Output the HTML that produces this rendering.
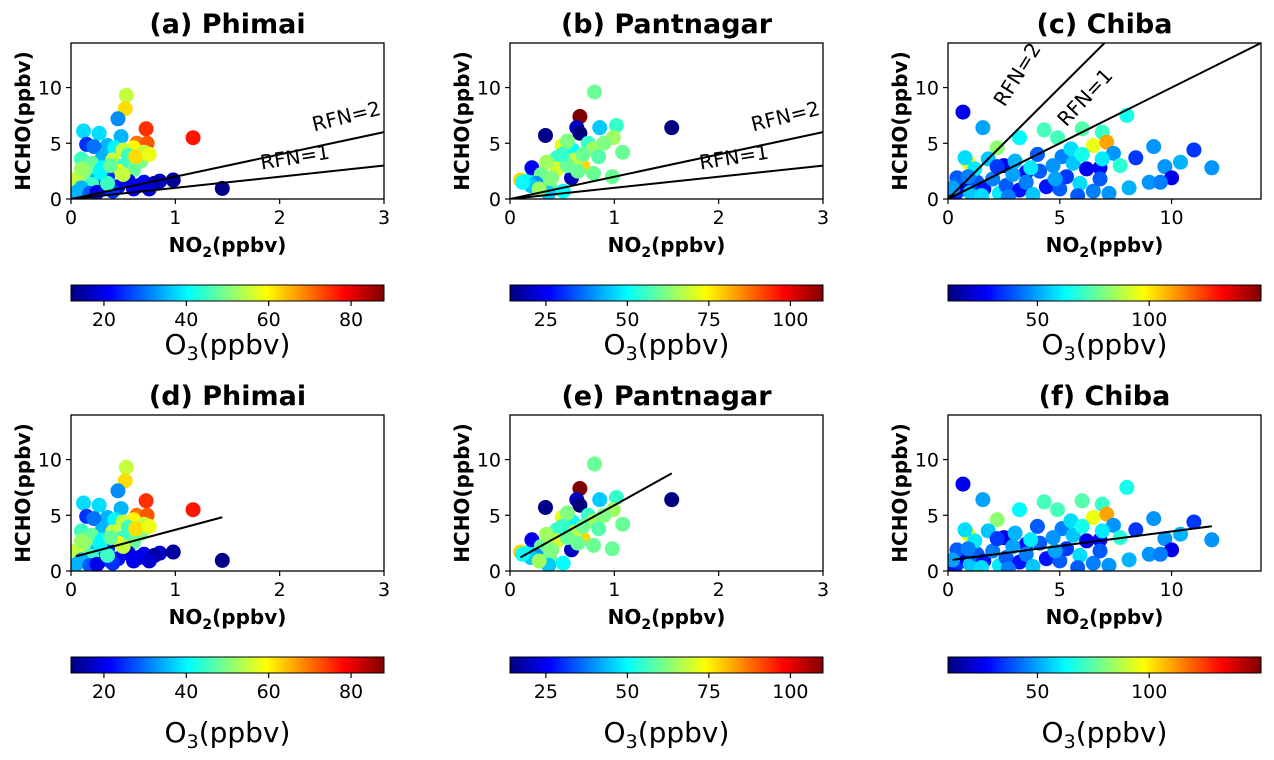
<!DOCTYPE html>
<html><head><meta charset="utf-8"><style>
html,body{margin:0;padding:0;background:#fff}
svg{display:block;font-family:"DejaVu Sans","Liberation Sans",sans-serif}
</style></head><body>
<svg id="fig" width="1274" height="760" viewBox="0 0 1274 760" xmlns="http://www.w3.org/2000/svg">
<defs id="defs"></defs>
</svg>
<script>
// ---- data: [NO2, HCHO, O3] ----
const phimaiNO2 = [0.53,0.52,0.45,0.72,1.17,0.12,0.27,0.48,0.63,0.73,0.15,0.35,0.22,0.42,0.6,0.5,0.7,0.1,0.3,0.55,0.4,0.67,0.2,0.5,0.3,0.45,0.6,0.15,0.05,0.25,0.35,0.55,0.7,0.85,0.98,0.8,0.65,0.45,0.3,0.2,0.1,0.05,0.18,0.4,0.6,0.75,1.45,0.25,0.35,0.5,0.1,0.28,0.38,0.62,0.75];
const phimaiHCHO = [9.3,8.1,7.2,6.3,5.5,6.1,5.9,5.6,5.0,5.0,4.9,4.8,4.7,4.6,4.6,4.4,4.2,3.6,3.7,3.9,3.5,3.4,3.2,3.0,2.8,2.5,2.6,2.3,1.8,1.8,2.0,1.6,1.5,1.6,1.7,1.4,1.2,1.1,1.0,1.3,1.0,0.6,0.5,0.7,0.9,0.9,0.95,0.6,1.4,2.2,2.7,2.4,3.0,3.8,4.0];
const phimaiO3 = [55,62,32,75,77,38,38,35,70,72,25,35,30,40,60,55,55,45,35,45,55,50,48,45,40,60,48,50,55,35,25,20,22,18,14,15,20,22,25,45,35,35,28,25,20,18,13,20,45,55,52,40,48,62,58];

const pantNO2 = [0.81,0.67,0.64,0.67,0.34,1.55,0.86,1.02,0.99,1.08,0.6,0.45,0.7,0.98,0.1,0.19,0.21,0.59,0.38,0.51,0.37,0.8,0.5,0.55,0.75,0.8,0.85,0.62,0.45,0.3,0.25,0.4,0.55,0.7,0.9,0.5,0.35,0.65,0.2,0.28,0.12];
const pantHCHO = [9.6,7.4,6.4,5.9,5.7,6.4,6.4,6.6,5.5,4.2,4.4,3.7,2.9,2.0,1.7,1.7,2.8,1.9,1.1,0.7,0.5,2.3,4.8,5.2,5.0,4.5,3.8,3.5,2.7,2.2,1.4,1.9,3.0,4.0,5.0,4.0,3.3,2.5,1.2,0.9,1.5];
const pantO3 = [60,110,20,10,15,10,45,55,65,60,50,55,78,60,78,50,25,20,60,50,45,60,72,62,55,65,58,68,70,60,40,62,60,60,62,55,65,60,45,65,50];

const chibaNO2 = [0.67,1.56,8.0,3.2,4.3,4.9,6.0,6.9,6.5,7.1,2.2,0.9,0.76,9.2,11.0,11.8,10.4,8.4,9.7,10.0,9.0,9.5,7.4,6.8,7.7,8.1,2.5,3.5,4.7,5.1,0.3,0.5,0.8,1.0,1.3,1.6,2.0,2.3,2.6,2.9,3.2,3.5,3.8,4.1,4.4,4.7,5.0,5.3,5.6,5.9,6.2,6.5,6.8,7.2,1.2,1.8,0.4,2.2,3.0,4.0,5.5,6.0,3.7,4.8,1.5,2.7,5.8,0.2,0.9,6.9];
const chibaHCHO = [7.8,6.4,7.5,5.5,6.2,5.5,6.3,6.0,4.8,5.1,4.6,3.3,3.7,4.7,4.4,2.8,3.3,3.7,2.9,1.9,1.5,1.5,4.1,2.8,3.0,1.0,3.0,2.4,1.5,3.8,0.3,0.8,1.2,0.6,1.5,0.9,1.8,0.5,1.2,2.2,0.8,1.5,0.4,2.5,1.1,3.0,0.9,2.0,3.2,1.4,2.7,0.7,1.8,0.5,2.7,3.6,1.9,2.9,3.4,4.0,4.5,4.0,2.8,1.8,0.3,0.2,0.3,1.0,2.0,3.6];
const chibaO3 = [25,50,65,62,72,72,74,70,95,110,82,95,58,48,35,48,52,35,48,25,48,45,48,28,68,52,25,30,65,45,30,35,25,55,40,30,45,60,40,50,30,45,55,40,30,48,40,35,55,58,25,45,40,48,60,55,40,35,52,40,58,65,60,50,58,45,40,50,45,60];

const colorMin = [12, 14, 10];
const colorMax = [88, 110, 150];
const cbTicksA = [20,40,60,80];
const cbTicksB = [25,50,75,100];
const cbTicksC = [50,100];
const xTicksAB = [0,1,2,3];
const xTicksC = [0,5,10];
const yTicks = [0,5,10];
const rfnValues = [1,2];
const regSlope = [2.5, 5.2, 0.26];
const regIntercept = [1.2, 0.7, 0.95];

const NS = "http://www.w3.org/2000/svg";
const svg = document.getElementById('fig');
function mk(tag, attrs, parent){const e=document.createElementNS(NS,tag);for(const k in attrs)e.setAttribute(k,attrs[k]);(parent||svg).appendChild(e);return e;}
function jet(t){t=Math.max(0,Math.min(1,t));const c=v=>Math.round(255*Math.max(0,Math.min(1,v)));
 return `rgb(${c(1.5-Math.abs(4*t-3))},${c(1.5-Math.abs(4*t-2))},${c(1.5-Math.abs(4*t-1))})`;}

const defs=document.getElementById('defs');
const grad=mk('linearGradient',{id:'jetg',x1:'0',x2:'1',y1:'0',y2:'0'},defs);
for(let i=0;i<=40;i++){mk('stop',{offset:(i/40),'stop-color':jet(i/40)},grad);}

const sites=[
 {name:'Phimai',nx:phimaiNO2,hy:phimaiHCHO,o3:phimaiO3,xmax:3,xt:xTicksAB,cb:cbTicksA,left:71,id:'phimai'},
 {name:'Pantnagar',nx:pantNO2,hy:pantHCHO,o3:pantO3,xmax:3,xt:xTicksAB,cb:cbTicksB,left:510,id:'pantnagar'},
 {name:'Chiba',nx:chibaNO2,hy:chibaHCHO,o3:chibaO3,xmax:14,xt:xTicksC,cb:cbTicksC,left:948,id:'chiba'}
];
const rfnLabels=[
 [{x:296,y:164,r:-9},{x:348,y:123,r:-14}],
 [{x:735,y:164,r:-9},{x:787,y:123,r:-14}],
 [{x:1090,y:102,r:-47},{x:1023,y:78,r:-58}]
];
const W=313,H=156,YMAX=14;
const letters=['a','b','c','d','e','f'];

for(let row=0;row<2;row++){
 const top=row===0?43:415;
 sites.forEach((s,si)=>{
  const L=s.left,B=top+H;
  const X=v=>L+v/s.xmax*W, Y=v=>B-v/YMAX*H;
  const panel=mk('g',{});
  
  
  const cp='cp'+row+si;
  const clip=mk('clipPath',{id:cp},defs);mk('rect',{x:L,y:top,width:W,height:H},clip);
  const pts=mk('g',{'clip-path':`url(#${cp})`},panel);
  
  
  for(let i=0;i<s.nx.length;i++){
   const c=mk('circle',{cx:X(s.nx[i]),cy:Y(s.hy[i]),r:7.5,fill:jet((s.o3[i]-colorMin[si])/(colorMax[si]-colorMin[si]))},pts);
   
   
  }
  if(row===0){
   rfnValues.forEach((k,ki)=>{
    const xe=Math.min(s.xmax,YMAX/k);
    const ln=mk('line',{x1:X(0),y1:Y(0),x2:X(xe),y2:Y(xe*k),stroke:'#000','stroke-width':2},pts);
    
    
    const p=rfnLabels[si][ki];
    const t=mk('text',{x:p.x,y:p.y,'font-size':20,'text-anchor':'middle',transform:`rotate(${p.r} ${p.x} ${p.y})`},panel);
    t.textContent=`RFN=${k}`;
    
    
   });
  } else {
   const x0=Math.min(...s.nx),x1=Math.max(...s.nx);
   const ln=mk('line',{x1:X(x0),y1:Y(regIntercept[si]+regSlope[si]*x0),x2:X(x1),y2:Y(regIntercept[si]+regSlope[si]*x1),stroke:'#000','stroke-width':2},pts);
   
   
  }
  const fr=mk('rect',{x:L,y:top,width:W,height:H,fill:'none',stroke:'#000','stroke-width':1.3},panel);
  
  
  s.xt.forEach(v=>{
   mk('line',{x1:X(v),x2:X(v),y1:B,y2:B+5,stroke:'#000','stroke-width':1.2},panel);
   const t=mk('text',{x:X(v),y:B+25,'font-size':19,'text-anchor':'middle'},panel);t.textContent=v;
   
   
  });
  yTicks.forEach(v=>{
   mk('line',{x1:L-5,x2:L,y1:Y(v),y2:Y(v),stroke:'#000','stroke-width':1.2},panel);
   const t=mk('text',{x:L-9,y:Y(v)+7,'font-size':19,'text-anchor':'end'},panel);t.textContent=v;
   
   
  });
  const ti=mk('text',{x:L+W/2,y:top-10,'font-size':27,'font-weight':'bold','text-anchor':'middle'},panel);
  ti.textContent=`(${letters[row*3+si]}) ${s.name}`;
  
  
  const xl=mk('text',{x:L+W/2,y:B+53,'font-size':20,'font-weight':'bold','text-anchor':'middle'},panel);
  xl.innerHTML='NO<tspan font-size="14" dy="5">2</tspan><tspan dy="-5">(ppbv)</tspan>';
  
  
  const yx=L-41,yy=top+H/2;
  const yl=mk('text',{x:yx,y:yy,'font-size':20,'font-weight':'bold','text-anchor':'middle',transform:`rotate(-90 ${yx} ${yy})`},panel);
  yl.textContent='HCHO(ppbv)';
  
  
  const cy=row===0?285:657;
  const cb=mk('g',{},panel);
  
  
  mk('rect',{x:L,y:cy,width:W,height:16,fill:'url(#jetg)',stroke:'#000','stroke-width':1},cb);
  const CX=v=>L+(v-colorMin[si])/(colorMax[si]-colorMin[si])*W;
  s.cb.forEach(v=>{
   mk('line',{x1:CX(v),x2:CX(v),y1:cy+16,y2:cy+21,stroke:'#000','stroke-width':1.2},cb);
   const t=mk('text',{x:CX(v),y:cy+41,'font-size':19,'text-anchor':'middle'},cb);t.textContent=v;
   
   
  });
  const cl=mk('text',{x:L+W/2,y:cy+(row===0?69:85),'font-size':28,'text-anchor':'middle'},cb);
  cl.innerHTML='O<tspan font-size="19" dy="6">3</tspan><tspan dy="-6">(ppbv)</tspan>';
  
  
 });
}
</script>
</body></html>
